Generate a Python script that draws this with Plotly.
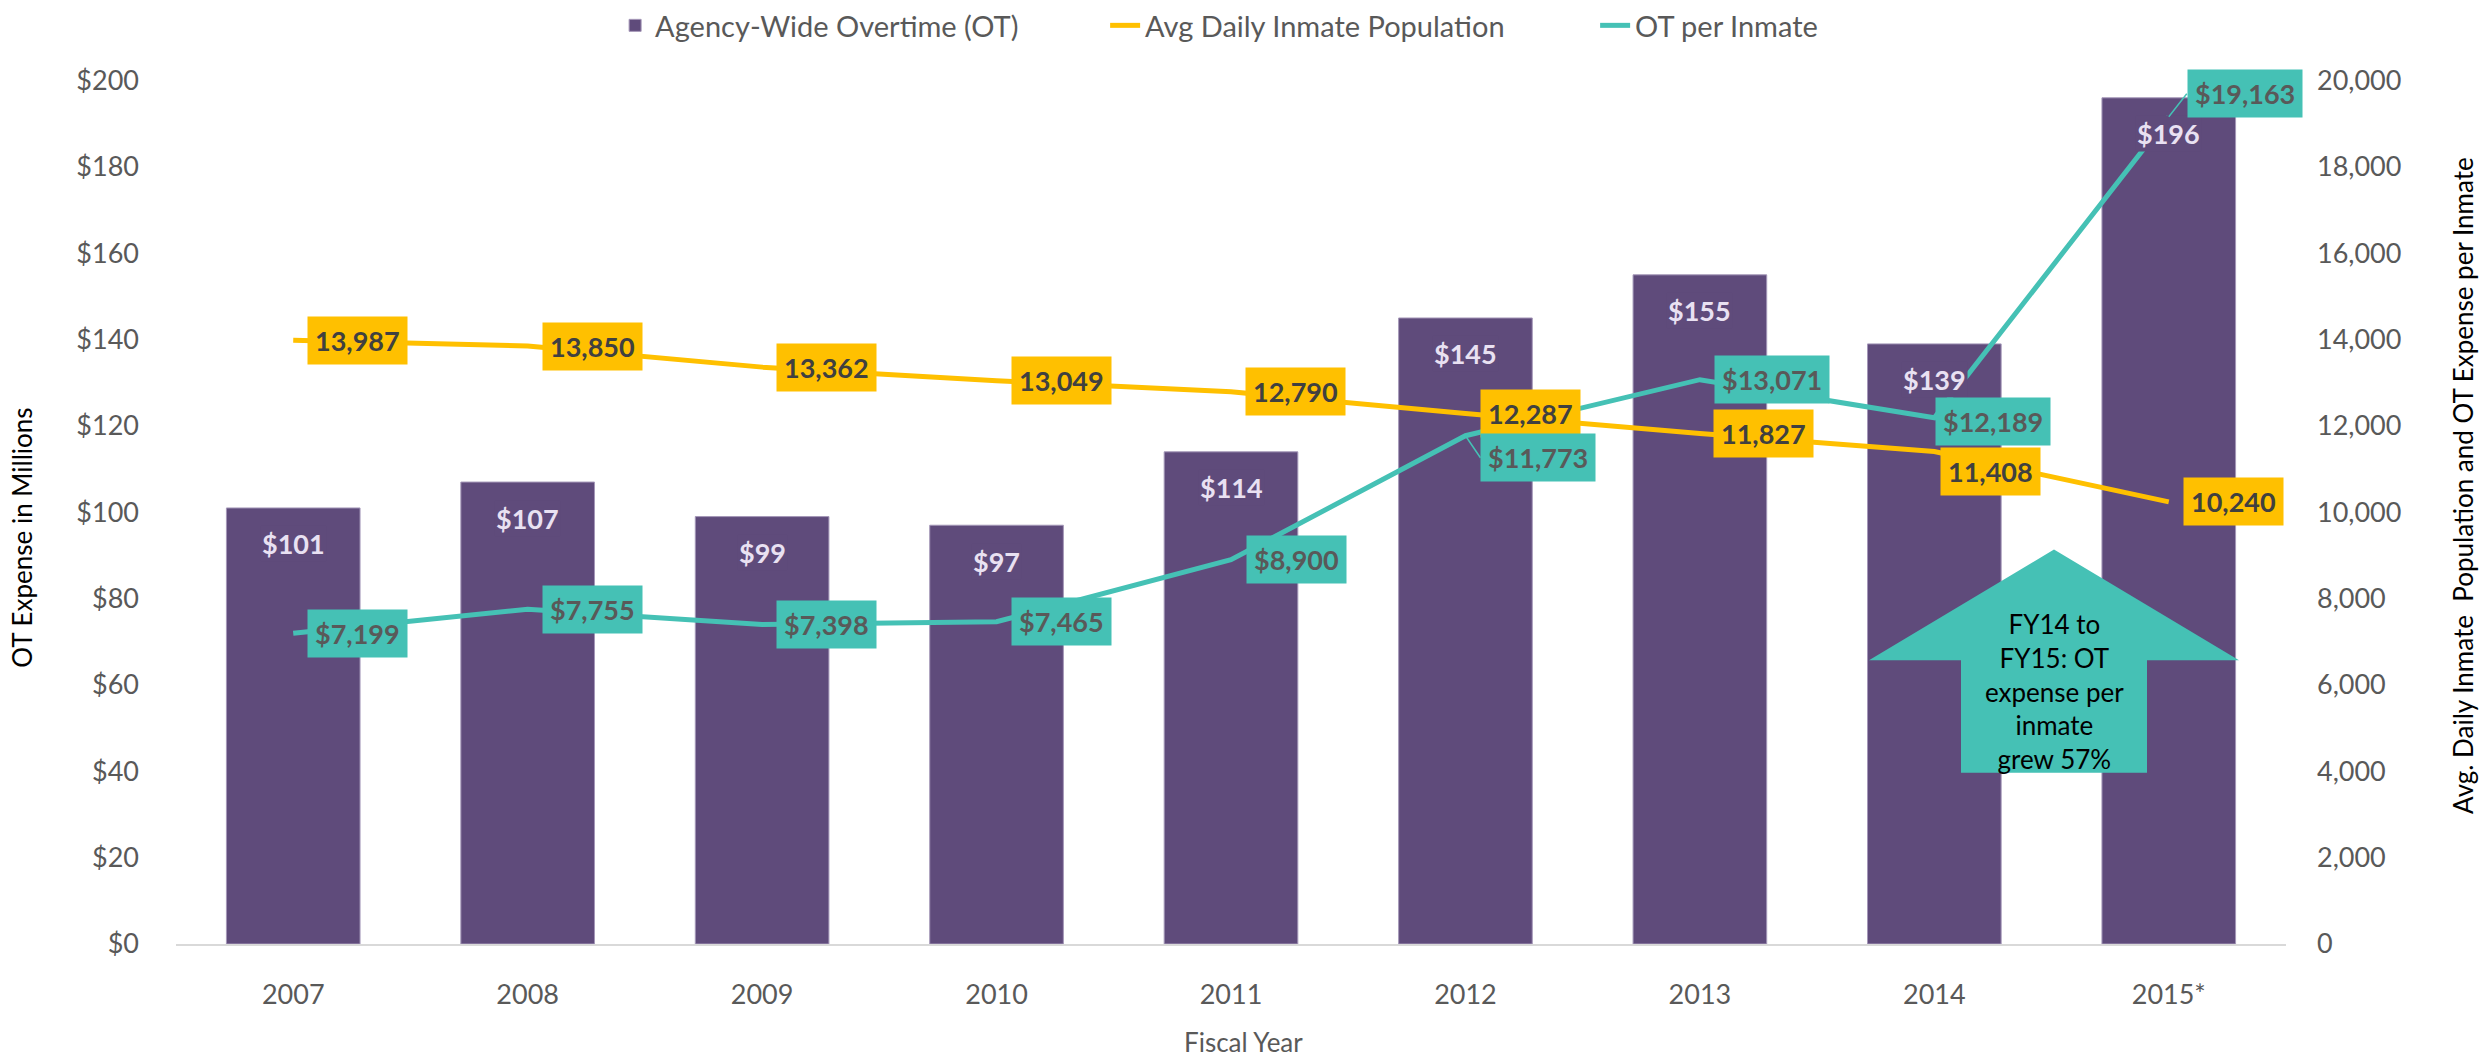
import plotly.graph_objects as go

# data
years = ["2007", "2008", "2009", "2010", "2011", "2012", "2013", "2014", "2015*"]
ot_millions = [101, 107, 99, 97, 114, 145, 155, 139, 196]
avg_inmates = [13987, 13850, 13362, 13049, 12790, 12287, 11827, 11408, 10240]
ot_per_inmate = [7199, 7755, 7398, 7465, 8900, 11773, 13071, 12189, 19163]

PURPLE = "#5f4b7b"
YELLOW = "#ffc000"
TEAL = "#45c1b5"
GREY = "#595959"
FONT = "Lato"

W, H = 2491, 1061
L, R, T, B = 176, 205, 77, 117

fig = go.Figure()

fig.add_trace(go.Bar(x=years, y=ot_millions, name="Agency-Wide Overtime (OT)",
                     marker=dict(color=PURPLE, line=dict(color="#a497b8", width=1)),
                     yaxis="y"))
fig.add_trace(go.Scatter(x=years, y=avg_inmates, name="Avg Daily Inmate Population",
                         mode="lines", line=dict(color=YELLOW, width=5),
                         yaxis="y2"))
fig.add_trace(go.Scatter(x=years, y=ot_per_inmate, name="OT per Inmate",
                         mode="lines", line=dict(color=TEAL, width=5),
                         yaxis="y2"))

ann = []

# bar value labels (bar-coloured box, so the lines pass underneath)
# x given as category index so numeric-looking year names are not misread
for i, v in enumerate(ot_millions):
    ann.append(dict(x=i, y=v, xref="x", yref="y", text="<b>$%d</b>" % v,
                    showarrow=False, yshift=-36, yanchor="middle", bgcolor=PURPLE, borderpad=1,
                    font=dict(family=FONT, size=27, color="#e9e1f2")))

# line label offsets (pixels)
pop_dx = [14, 14, 14, 14, 14, 15, 13, 6, 14]
pop_dy = [0, 0, 0, 0, 0, 0, 0, -20, 0]
ot_dx = [14, 14, 14, 14, 15, 15, 14, 1, 18]
ot_dy = [0, 0, 0, 0, 0, -22, 0, -4, 23]

for i, v in enumerate(avg_inmates):
    ann.append(dict(x=i, y=v, xref="x", yref="y2", text="<b>{:,}</b>".format(v),
                    showarrow=False, xanchor="left", yanchor="middle",
                    xshift=pop_dx[i], yshift=pop_dy[i], bgcolor=YELLOW, borderpad=7,
                    font=dict(family=FONT, size=27, color="#404040")))

for i, v in enumerate(ot_per_inmate):
    a = dict(x=i, y=v, xref="x", yref="y2", text="<b>${:,}</b>".format(v),
             xanchor="left", yanchor="middle", bgcolor=TEAL, borderpad=7,
             font=dict(family=FONT, size=27, color=GREY))
    if i in (5, 8):
        a.update(showarrow=True, arrowhead=0, arrowwidth=1.5, arrowcolor=TEAL,
                 ax=ot_dx[i], ay=-ot_dy[i])
    else:
        a.update(showarrow=False, xshift=ot_dx[i], yshift=ot_dy[i])
    ann.append(a)


def px(x):
    return (x - L) / (W - L - R)


def py(y):
    return (H - B - y) / (H - T - B)


# big up arrow callout
tip_x, head_l, head_r, sh_l, sh_r = px(2054), px(1869), px(2239), px(1961), px(2147)
tip_y, head_y, bot_y = py(548), py(659), py(772)
arrow_path = ("M {a},{b} L {c},{d} L {e},{d} L {e},{f} L {g},{f} L {g},{d} L {h},{d} Z"
              .format(a=tip_x, b=tip_y, c=head_r, d=head_y, e=sh_r, f=bot_y, g=sh_l, h=head_l))

ann.append(dict(x=tip_x, y=py(690), xref="paper", yref="paper", showarrow=False,
                xanchor="center", yanchor="middle",
                text="FY14 to<br>FY15: OT<br>expense per<br>inmate<br>grew 57%",
                align="center", font=dict(family=FONT, size=26, color="black")))

# axis titles
ann.append(dict(x=px(22), y=py(536), xref="paper", yref="paper", text="OT Expense in Millions",
                showarrow=False, textangle=-90, xanchor="center", yanchor="middle",
                font=dict(family=FONT, size=26, color="black")))
ann.append(dict(x=px(2463), y=py(484), xref="paper", yref="paper",
                text="Avg. Daily Inmate  Population and OT Expense per Inmate",
                showarrow=False, textangle=-90, xanchor="center", yanchor="middle",
                font=dict(family=FONT, size=26, color="black")))
ann.append(dict(x=px(1243), y=py(1042), xref="paper", yref="paper", text="Fiscal Year",
                showarrow=False, xanchor="center", yanchor="middle",
                font=dict(family=FONT, size=26, color=GREY)))

fig.update_layout(
    width=W, height=H,
    margin=dict(l=L, r=R, t=T, b=B),
    plot_bgcolor="white", paper_bgcolor="white",
    font=dict(family=FONT, size=27, color=GREY),
    bargap=0.43,
    xaxis=dict(type="category", range=[-0.5, 8.5], showgrid=False, showline=True,
               linecolor="#d9d9d9", linewidth=2,
               ticks="", ticklabelstandoff=26, tickfont=dict(size=27, color=GREY)),
    yaxis=dict(range=[0, 200], dtick=20, tickprefix="$", showgrid=False, zeroline=False,
               ticks="", ticklabelstandoff=36, tickfont=dict(size=27, color=GREY)),
    yaxis2=dict(range=[0, 20000], dtick=2000, tickformat=",", overlaying="y", side="right",
                showgrid=False, zeroline=False, ticks="", ticklabelstandoff=30,
                tickfont=dict(size=27, color=GREY)),
    legend=dict(orientation="h", x=0.542, xref="container", xanchor="center",
                y=1, yref="container", yanchor="top", entrywidth=445,
                font=dict(family=FONT, size=29, color=GREY)),
    shapes=[dict(type="path", path=arrow_path, xref="paper", yref="paper",
                 fillcolor=TEAL, line=dict(width=0), layer="above")],
    annotations=ann,
)

fig.write_html("out.html", config={"displayModeBar": False},
               post_script="document.body.style.margin='0';")
